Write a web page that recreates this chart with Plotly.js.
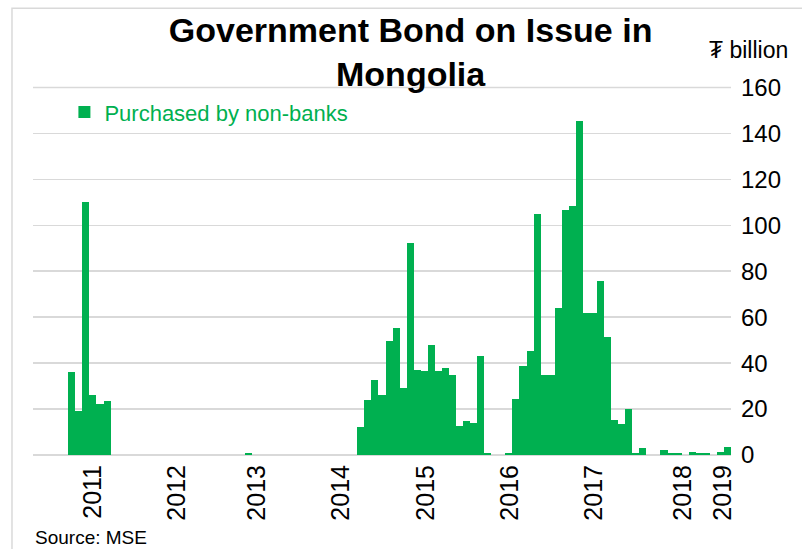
<!DOCTYPE html>
<html>
<head>
<meta charset="utf-8">
<script src="https://cdn.plot.ly/plotly-3.0.1.min.js"></script>
<style>html,body{margin:0;padding:0;background:#fff;}#chart{width:802px;height:549px;}</style>
</head>
<body>
<div id="chart"></div>
<script>
// Monthly purchases by non-banks (₮ billion), one value per period on the category axis
const values = [
  0, 0, 0, 0, 0,
  36, 19, 110, 26, 22, 23.6,
  0, 0, 0, 0, 0, 0, 0, 0, 0, 0, 0, 0, 0, 0, 0, 0, 0, 0, 0,
  0.8,
  0, 0, 0, 0, 0, 0, 0, 0, 0, 0, 0, 0, 0, 0, 0,
  12.2, 23.9, 32.5, 26.0, 49.7, 55.1, 29.2, 92.1, 37.0, 36.6, 47.9, 36.7, 37.7, 34.8,
  12.6, 14.9, 13.8, 43.1, 1.0, 0, 0, 0.8,
  24.5, 38.7, 45.3, 105.0, 34.7, 35.0, 64.0, 106.6, 108.4, 145.5, 61.8, 61.8, 75.6, 51.3,
  15.1, 13.6, 20.2, 1.0, 3.2, 0, 0, 2.1, 1.0, 1.0, 0, 1.5, 0.7, 0.7, 0, 1.1, 3.3
];
const periods = values.map((v, i) => i);
const yearLabels = ["2011", "2012", "2013", "2014", "2015", "2016", "2017", "2018", "2019"];
const yearLabelPeriods = [8.0, 19.9, 31.3, 43.2, 55.2, 67.2, 79.1, 91.7, 97.4];
const yTicks = [0, 20, 40, 60, 80, 100, 120, 140, 160];
const seriesName = "Purchased by non-banks";

const FONT = "Liberation Sans, Arial, sans-serif";
const GREEN = "#00B050";
const GRID = "#d9d9d9";
const Y_MAX = 165;

const trace = {
  type: "bar",
  x: periods,
  y: values,
  name: seriesName,
  marker: {color: GREEN, line: {width: 0}},
  showlegend: true,
  hoverinfo: "y"
};

const yTop = yTicks[yTicks.length - 1];

const layout = {
  width: 802,
  height: 549,
  margin: {l: 33, r: 71, t: 76, b: 94, pad: 0},
  paper_bgcolor: "#ffffff",
  plot_bgcolor: "#ffffff",
  font: {family: FONT, color: "#000"},
  bargap: 0,
  title: {
    text: "<b>Government Bond on Issue in<br>Mongolia</b>",
    font: {family: FONT, size: 34, color: "#000"},
    x: 0.512, xanchor: "center",
    y: 0.924, yanchor: "middle", yref: "container"
  },
  xaxis: {
    range: [-0.5, values.length - 0.5],
    tickmode: "array",
    tickvals: yearLabelPeriods,
    ticktext: yearLabels,
    tickangle: -90,
    ticks: "",
    showgrid: false,
    zeroline: false,
    showline: false,
    tickfont: {family: FONT, size: 25, color: "#000"},
    ticklabelstandoff: 4,
    fixedrange: true
  },
  yaxis: {
    side: "right",
    range: [0, Y_MAX],
    tickmode: "array",
    tickvals: yTicks,
    ticks: "",
    showgrid: true,
    gridcolor: GRID,
    gridwidth: 1.5,
    zeroline: true,
    zerolinecolor: GRID,
    zerolinewidth: 1.5,
    showline: false,
    tickfont: {family: FONT, size: 24, color: "#000"},
    ticklabelstandoff: 9,
    fixedrange: true
  },
  legend: {
    x: 0.045, xanchor: "left",
    y: 0.9045, yanchor: "middle",
    bgcolor: "rgba(0,0,0,0)",
    font: {family: FONT, size: 22, color: GREEN},
    itemwidth: 30,
    tracegroupgap: 0
  },
  annotations: [
    {
      text: "₮ billion", xref: "paper", yref: "paper",
      x: 1.0845, y: 1.068, xanchor: "right", yanchor: "middle",
      showarrow: false, font: {family: FONT, size: 23, color: "#000"}
    },
    {
      text: "Source: MSE", xref: "paper", yref: "paper",
      x: 0.0, y: -0.2189, xanchor: "left", yanchor: "middle",
      showarrow: false, font: {family: FONT, size: 19, color: "#000"}
    }
  ],
  shapes: [
    {
      type: "rect", xref: "paper", yref: "paper",
      x0: -0.0301, x1: 1.12, y0: -0.4, y1: 1.1788,
      line: {color: GRID, width: 1.5}, fillcolor: "rgba(0,0,0,0)", layer: "below"
    },
    {
      type: "line", xref: "paper", yref: "paper",
      x0: 0, x1: 1, y0: yTop / Y_MAX, y1: yTop / Y_MAX,
      line: {color: GRID, width: 1.5}, layer: "above"
    }
  ]
};

Plotly.newPlot("chart", [trace], layout, {displayModeBar: false, staticPlot: true});
</script>
</body>
</html>
